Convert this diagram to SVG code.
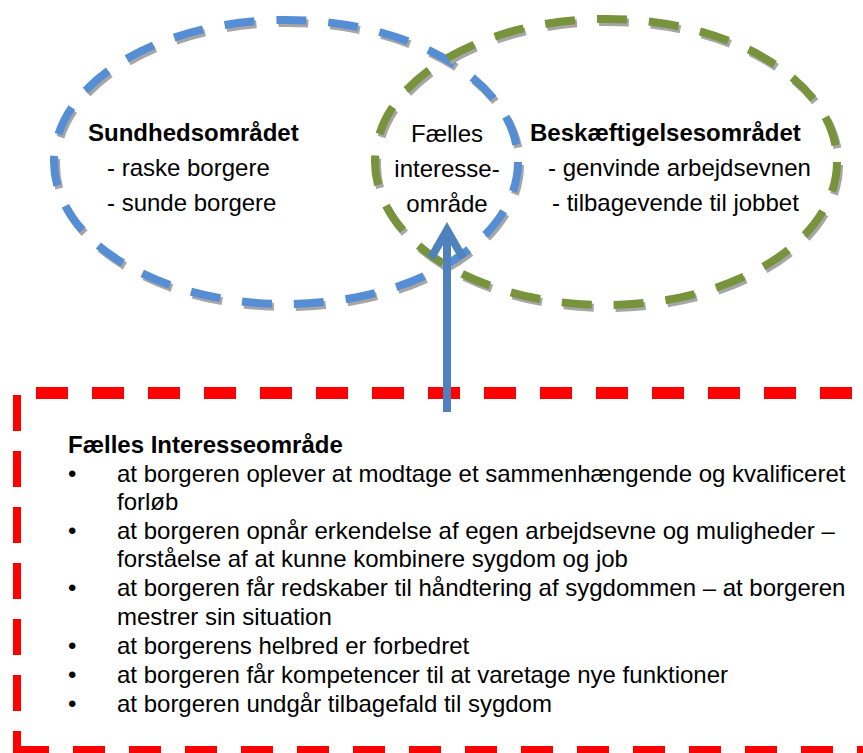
<svg xmlns="http://www.w3.org/2000/svg" width="863" height="753" viewBox="0 0 863 753">
<style>
text{font-family:"Liberation Sans",Arial,sans-serif;font-size:24px;fill:#000}
.b{font-weight:bold}
.m{text-anchor:middle}
.ell{fill:none;stroke-width:8;stroke-dasharray:30 22}
.sh{stroke:#a6a6a6}
.red{fill:none;stroke:#ff0000;stroke-width:8;stroke-dasharray:32 24}
</style>
<rect width="863" height="753" fill="#fff"/>
<g id="box-common">
  <g transform="translate(0,4)">
    <line class="red sh" x1="36" y1="391" x2="900" y2="391"/>
    <line class="red sh" x1="17" y1="395" x2="17" y2="760"/>
    <line class="red sh" x1="17" y1="750" x2="900" y2="750"/>
  </g>
  <line class="red" x1="36" y1="391" x2="900" y2="391"/>
  <line class="red" x1="17" y1="395" x2="17" y2="760"/>
  <line class="red" x1="17" y1="750" x2="900" y2="750"/>
  <text class="b" x="68" y="453">Fælles Interesseområde</text>
  <text x="68" y="482">•</text>
  <text x="117" y="482">at borgeren oplever at modtage et sammenhængende og kvalificeret</text>
  <text x="117" y="510">forløb</text>
  <text x="68" y="539">•</text>
  <text x="117" y="539">at borgeren opnår erkendelse af egen arbejdsevne og muligheder –</text>
  <text x="117" y="567">forståelse af at kunne kombinere sygdom og job</text>
  <text x="68" y="596">•</text>
  <text x="117" y="596">at borgeren får redskaber til håndtering af sygdommen – at borgeren</text>
  <text x="117" y="625">mestrer sin situation</text>
  <text x="68" y="654">•</text>
  <text x="117" y="654">at borgerens helbred er forbedret</text>
  <text x="68" y="683">•</text>
  <text x="117" y="683">at borgeren får kompetencer til at varetage nye funktioner</text>
  <text x="68" y="712">•</text>
  <text x="117" y="712">at borgeren undgår tilbagefald til sygdom</text>
</g>
<g id="ellipse-sundhed">
  <ellipse class="ell sh" cx="288" cy="165" rx="232" ry="142"/>
  <ellipse class="ell" cx="286" cy="162" rx="232" ry="142" stroke="#558ed5"/>
  <text class="b" x="88" y="141">Sundhedsområdet</text>
  <text x="107" y="176">- raske borgere</text>
  <text x="107" y="211">- sunde borgere</text>
</g>
<g id="ellipse-beskaeftigelse">
  <ellipse class="ell sh" cx="608" cy="165" rx="231" ry="143"/>
  <ellipse class="ell" cx="606" cy="162" rx="231" ry="143" stroke="#77933c"/>
  <text class="b" x="530" y="141">Beskæftigelsesområdet</text>
  <text x="548" y="176">- genvinde arbejdsevnen</text>
  <text x="552" y="211">- tilbagevende til jobbet</text>
</g>
<g id="overlap-label">
  <text class="m" x="447" y="142">Fælles</text>
  <text class="m" x="447" y="177">interesse-</text>
  <text class="m" x="447" y="212">område</text>
</g>
<g id="connectors">
  <line x1="447" y1="412" x2="447" y2="232" stroke="#4f81bd" stroke-width="8"/>
  <polyline points="431,258 447,230 463,258" fill="none" stroke="#4f81bd" stroke-width="8" stroke-linejoin="miter"/>
</g>
</svg>
